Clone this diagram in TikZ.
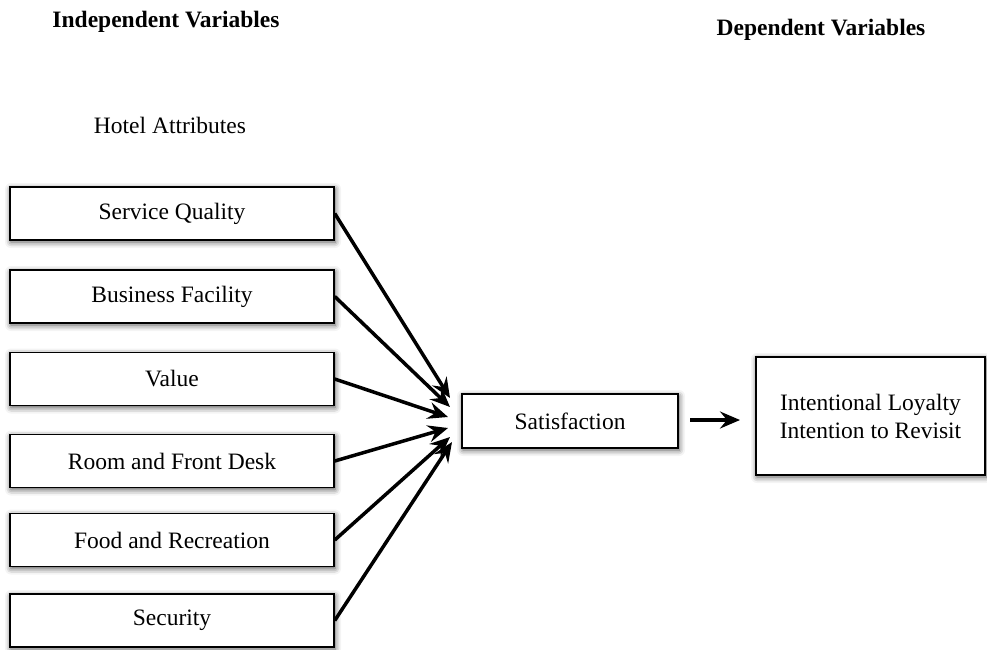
\documentclass[tikz,border=0pt]{standalone}
\usepackage{fontspec}
\setmainfont{Liberation Serif}
\usetikzlibrary{arrows.meta,shadows.blur}
\tikzset{
  boxstyle/.style={draw=black, line width=1.5pt, fill=white, inner sep=0pt,
    font=\fontsize{23.5}{28}\selectfont,
    blur shadow={shadow xshift=1pt, shadow yshift=-2pt, shadow blur radius=6pt, shadow opacity=70}},
  attr/.style={boxstyle, minimum width=324pt, minimum height=53pt},
  conn/.style={line width=3.5pt, -{Stealth[length=20pt,width=17pt,inset=7pt]}},
  hdr/.style={font=\fontsize{23.5}{28}\selectfont\bfseries},
  plain/.style={font=\fontsize{23.5}{28}\selectfont}
}
\begin{document}
\begin{tikzpicture}[x=1pt,y=-1pt]
\useasboundingbox (0,0) rectangle (987,649);
\node[hdr] (iv) at (166,22) {Independent Variables};
\node[hdr] (dv) at (821,30) {Dependent Variables};
\node[plain] (ha) at (170,125) {Hotel Attributes};

\node[attr] (sq) at (172,213.5) {Service Quality};
\node[attr] (bf) at (172,296.5) {Business Facility};
\node[attr] (va) at (172,379) {Value};
\node[attr] (rf) at (172,461) {Room and Front Desk};
\node[attr] (fr) at (172,540) {Food and Recreation};
\node[attr] (se) at (172,620.5) {Security};

\node[boxstyle, minimum width=216pt, minimum height=54pt] (sat) at (570,421) {Satisfaction};
\node[boxstyle, minimum width=229pt, minimum height=118pt, align=center] (il) at (870.5,416)
  {Intentional Loyalty\\Intention to Revisit};

\coordinate (e1) at (450,398);
\coordinate (e2) at (450,407);
\coordinate (e3) at (448,417);
\coordinate (e4) at (448,428);
\coordinate (e5) at (450,437);
\coordinate (e6) at (452,442);
\coordinate (s7) at (690,420);
\coordinate (e7) at (740,420);

\draw[conn] (sq.east) -- (e1);
\draw[conn] (bf.east) -- (e2);
\draw[conn] (va.east) -- (e3);
\draw[conn] (rf.east) -- (e4);
\draw[conn] (fr.east) -- (e5);
\draw[conn] (se.east) -- (e6);
\draw[conn] (s7) -- (e7);
\end{tikzpicture}
\end{document}
